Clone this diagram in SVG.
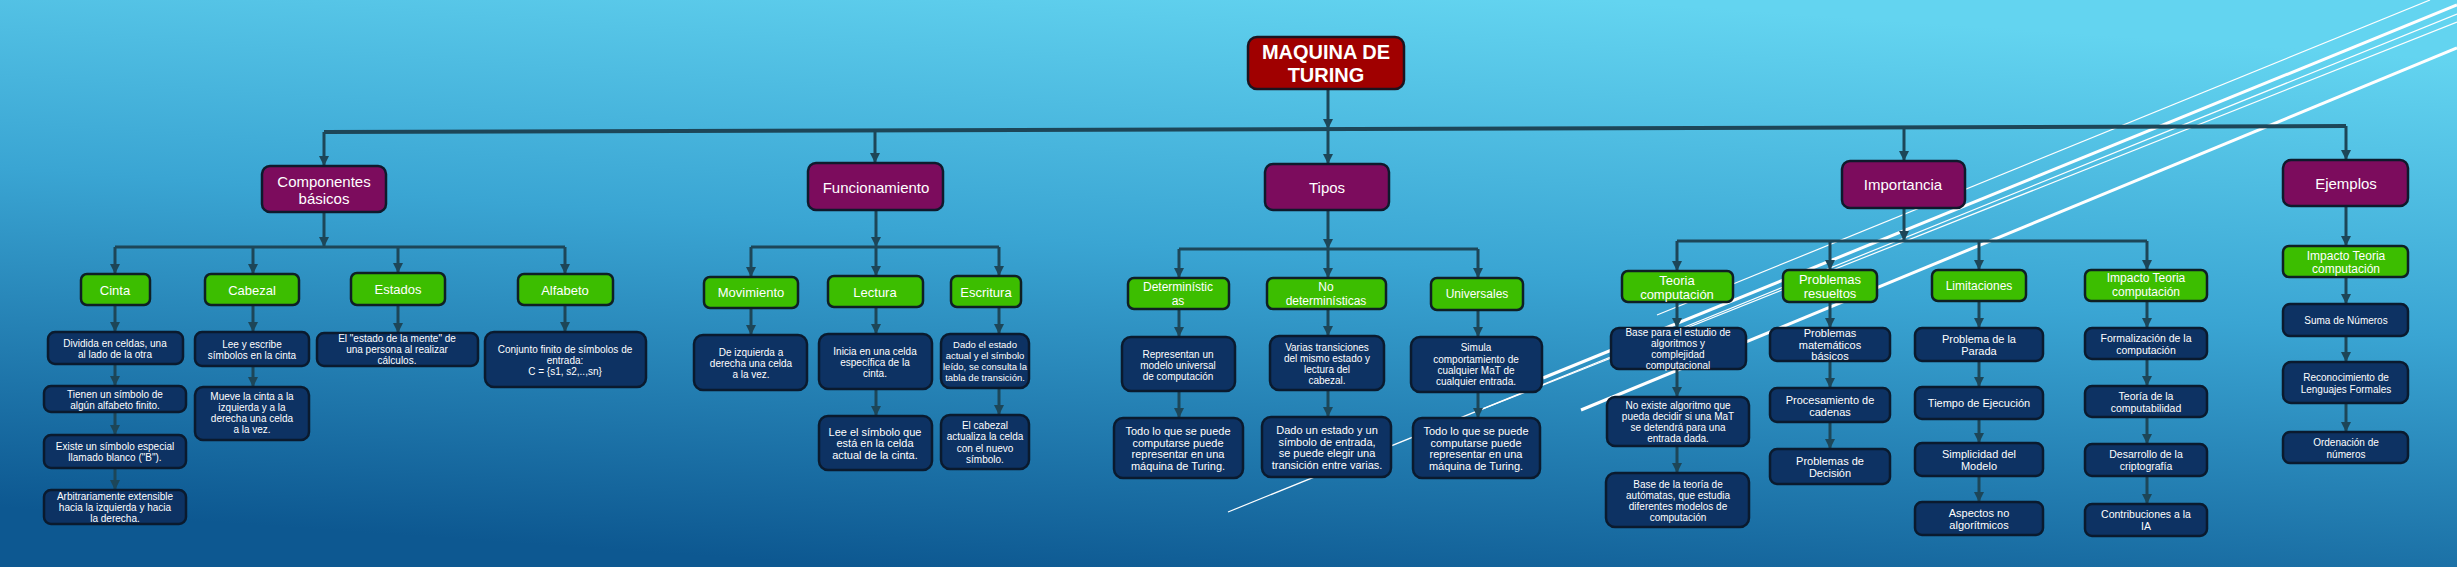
<svg xmlns="http://www.w3.org/2000/svg" width="2457" height="567" viewBox="0 0 2457 567">
<defs>
<linearGradient id="bg" x1="0.65" y1="0" x2="0.35" y2="1">
<stop offset="0" stop-color="#63d4f0"/>
<stop offset="0.45" stop-color="#3aa5d3"/>
<stop offset="1" stop-color="#0d5891"/>
</linearGradient>
<marker id="ah" markerUnits="userSpaceOnUse" markerWidth="10" markerHeight="10" refX="10" refY="5" orient="auto">
<path d="M0,0 L10,5 L0,10 z" fill="#1d4658"/>
</marker>
<style>
.c{stroke:#1d4658;stroke-width:3;fill:none;marker-end:url(#ah)}
.h{stroke:#1d4658;stroke-width:3;fill:none}
.hm{stroke:#1d4658;stroke-width:4;fill:none}
.wl{stroke:#ffffff;fill:none}
.b0{fill:#a00000;stroke:#1a1420;stroke-width:2.5}
.b1{fill:#7c0c5d;stroke:#0e1a2c;stroke-width:2.5}
.b2{fill:#3cbe00;stroke:#0f1f24;stroke-width:2.5}
.b3{fill:#0d3263;stroke:#0a1a2e;stroke-width:2.5}
text{font-family:"Liberation Sans",Arial,sans-serif;fill:#ffffff;text-anchor:middle;dominant-baseline:central}
.f0{font-size:20px;font-weight:bold}
.f1{font-size:15px}
.f2{font-size:13px}
.f2s{font-size:12px}
.f10{font-size:10px}
.f9{font-size:9.5px}
.f105{font-size:10.5px}
.f11{font-size:11px}
</style>
</defs>
<rect x="0" y="0" width="2457" height="567" fill="url(#bg)"/>
<g id="decor">
<line class="wl" stroke-width="1.2" x1="1657" y1="315" x2="2430" y2="0"/>
<line class="wl" stroke-width="3" x1="1543" y1="378" x2="2457" y2="5"/>
<line class="wl" stroke-width="1.2" x1="1228" y1="512" x2="2457" y2="14"/>
<line class="wl" stroke-width="1.2" x1="1480" y1="410" x2="2457" y2="22"/>
<line class="wl" stroke-width="3" x1="1581" y1="410" x2="2457" y2="48"/>
</g>
<g id="connectors">
<path class="c" d="M1328 89 V129"/>
<path class="hm" d="M324 132 L2346 126"/>
<path class="c" d="M324 132 V166"/>
<path class="c" d="M875 130 V163"/>
<path class="c" d="M1328 129 V164"/>
<path class="c" d="M1904 127 V161"/>
<path class="c" d="M2346 126 V160"/>
<path class="c" d="M324 212 V247"/>
<path class="h" d="M115 247 H565"/>
<path class="c" d="M115 247 V274"/>
<path class="c" d="M253 247 V274"/>
<path class="c" d="M398 247 V273"/>
<path class="c" d="M565 247 V274"/>
<path class="c" d="M115 305 V332"/>
<path class="c" d="M115 364 V386"/>
<path class="c" d="M115 412 V435"/>
<path class="c" d="M115 468 V490"/>
<path class="c" d="M253 305 V332"/>
<path class="c" d="M253 366 V387"/>
<path class="c" d="M398 305 V333"/>
<path class="c" d="M565 305 V332"/>
<path class="c" d="M876 210 V247"/>
<path class="h" d="M751 247 H999"/>
<path class="c" d="M751 247 V277"/>
<path class="c" d="M876 247 V276"/>
<path class="c" d="M999 247 V276"/>
<path class="c" d="M751 308 V335"/>
<path class="c" d="M876 307 V334"/>
<path class="c" d="M876 389 V416"/>
<path class="c" d="M999 307 V334"/>
<path class="c" d="M999 388 V415"/>
<path class="c" d="M1328 210 V249"/>
<path class="h" d="M1179 249 H1478"/>
<path class="c" d="M1179 249 V278"/>
<path class="c" d="M1328 249 V278"/>
<path class="c" d="M1478 249 V278"/>
<path class="c" d="M1179 309 V337"/>
<path class="c" d="M1179 391 V418"/>
<path class="c" d="M1328 309 V336"/>
<path class="c" d="M1328 390 V417"/>
<path class="c" d="M1478 310 V337"/>
<path class="c" d="M1478 392 V418"/>
<path class="c" d="M1904 208 V241"/>
<path class="h" d="M1677 241 H2147"/>
<path class="c" d="M1677 241 V271"/>
<path class="c" d="M1830 241 V270"/>
<path class="c" d="M1979 241 V270"/>
<path class="c" d="M2147 241 V270"/>
<path class="c" d="M1677 302 V328"/>
<path class="c" d="M1677 369 V397"/>
<path class="c" d="M1677 446 V473"/>
<path class="c" d="M1830 302 V328"/>
<path class="c" d="M1830 361 V388"/>
<path class="c" d="M1830 422 V449"/>
<path class="c" d="M1979 301 V328"/>
<path class="c" d="M1979 361 V387"/>
<path class="c" d="M1979 419 V443"/>
<path class="c" d="M1979 476 V502"/>
<path class="c" d="M2147 301 V328"/>
<path class="c" d="M2147 359 V386"/>
<path class="c" d="M2147 417 V444"/>
<path class="c" d="M2147 476 V504"/>
<path class="c" d="M2346 206 V246"/>
<path class="c" d="M2346 277 V304"/>
<path class="c" d="M2346 336 V362"/>
<path class="c" d="M2346 403 V432"/>
</g>
<g id="n-title"><rect class="b0" x="1248" y="37" width="156" height="52" rx="9"/><text class="f0"><tspan x="1326" y="52">MAQUINA DE</tspan><tspan x="1326" y="75">TURING</tspan></text></g>

<g id="n-componentes"><rect class="b1" x="262" y="166" width="124" height="46" rx="8"/><text class="f1"><tspan x="324" y="181">Componentes</tspan><tspan x="324" y="198">básicos</tspan></text></g>
<g id="n-funcionamiento"><rect class="b1" x="808" y="163" width="135" height="47" rx="8"/><text class="f1" x="876" y="187">Funcionamiento</text></g>
<g id="n-tipos"><rect class="b1" x="1265" y="164" width="124" height="46" rx="8"/><text class="f1" x="1327" y="187">Tipos</text></g>
<g id="n-importancia"><rect class="b1" x="1842" y="161" width="123" height="47" rx="8"/><text class="f1" x="1903" y="184">Importancia</text></g>
<g id="n-ejemplos"><rect class="b1" x="2283" y="160" width="125" height="46" rx="8"/><text class="f1" x="2346" y="183">Ejemplos</text></g>

<g id="n-cinta"><rect class="b2" x="81" y="274" width="69" height="31" rx="6"/><text class="f2" x="115" y="290">Cinta</text></g>
<g id="n-cabezal"><rect class="b2" x="205" y="274" width="94" height="31" rx="6"/><text class="f2" x="252" y="290">Cabezal</text></g>
<g id="n-estados"><rect class="b2" x="351" y="273" width="94" height="32" rx="6"/><text class="f2" x="398" y="289">Estados</text></g>
<g id="n-alfabeto"><rect class="b2" x="518" y="274" width="95" height="31" rx="6"/><text class="f2" x="565" y="290">Alfabeto</text></g>
<g id="n-movimiento"><rect class="b2" x="704" y="277" width="94" height="31" rx="6"/><text class="f2" x="751" y="292">Movimiento</text></g>
<g id="n-lectura"><rect class="b2" x="828" y="276" width="95" height="31" rx="6"/><text class="f2" x="875" y="292">Lectura</text></g>
<g id="n-escritura"><rect class="b2" x="951" y="276" width="70" height="31" rx="6"/><text class="f2" x="986" y="292">Escritura</text></g>
<g id="n-deterministicas"><rect class="b2" x="1128" y="278" width="101" height="31" rx="6"/><text class="f2s"><tspan x="1178" y="287">Determinístic</tspan><tspan x="1178" y="301">as</tspan></text></g>
<g id="n-nodeterministicas"><rect class="b2" x="1267" y="278" width="119" height="31" rx="6"/><text class="f2s"><tspan x="1326" y="287">No</tspan><tspan x="1326" y="301">determinísticas</tspan></text></g>
<g id="n-universales"><rect class="b2" x="1431" y="278" width="92" height="32" rx="6"/><text class="f2s" x="1477" y="294">Universales</text></g>
<g id="n-teoria"><rect class="b2" x="1622" y="271" width="111" height="31" rx="6"/><text class="f2"><tspan x="1677" y="280">Teoria</tspan><tspan x="1677" y="294">computación</tspan></text></g>
<g id="n-problemas"><rect class="b2" x="1783" y="270" width="94" height="32" rx="6"/><text class="f2"><tspan x="1830" y="279">Problemas</tspan><tspan x="1830" y="293">resueltos</tspan></text></g>
<g id="n-limitaciones"><rect class="b2" x="1932" y="270" width="94" height="31" rx="6"/><text class="f2s" x="1979" y="286">Limitaciones</text></g>
<g id="n-impacto"><rect class="b2" x="2085" y="270" width="122" height="31" rx="6"/><text class="f2s"><tspan x="2146" y="278">Impacto Teoria</tspan><tspan x="2146" y="292">computación</tspan></text></g>
<g id="n-ej-impacto"><rect class="b2" x="2283" y="246" width="125" height="31" rx="6"/><text class="f2s"><tspan x="2346" y="256">Impacto Teoria</tspan><tspan x="2346" y="269">computación</tspan></text></g>

<g id="n-cinta1"><rect class="b3" x="48" y="332" width="135" height="32" rx="7"/><text class="f10"><tspan x="115" y="343">Dividida en celdas, una</tspan><tspan x="115" y="354">al lado de la otra</tspan></text></g>
<g id="n-cinta2"><rect class="b3" x="44" y="386" width="142" height="26" rx="7"/><text class="f10"><tspan x="115" y="394">Tienen  un símbolo de</tspan><tspan x="115" y="405">algún  alfabeto finito.</tspan></text></g>
<g id="n-cinta3"><rect class="b3" x="44" y="435" width="142" height="33" rx="7"/><text class="f10"><tspan x="115" y="446">Existe un símbolo especial</tspan><tspan x="115" y="457">llamado  blanco ("B").</tspan></text></g>
<g id="n-cinta4"><rect class="b3" x="44" y="490" width="142" height="34" rx="7"/><text class="f10"><tspan x="115" y="496">Arbitrariamente extensible</tspan><tspan x="115" y="507">hacia  la izquierda  y hacia</tspan><tspan x="115" y="518">la derecha.</tspan></text></g>
<g id="n-cab1"><rect class="b3" x="195" y="332" width="114" height="34" rx="7"/><text class="f10"><tspan x="252" y="344">Lee y escribe</tspan><tspan x="252" y="355">símbolos en la cinta</tspan></text></g>
<g id="n-cab2"><rect class="b3" x="195" y="387" width="114" height="53" rx="8"/><text class="f10"><tspan x="252" y="396">Mueve la cinta a la</tspan><tspan x="252" y="407">izquierda y a la</tspan><tspan x="252" y="418">derecha una celda</tspan><tspan x="252" y="429">a la vez.</tspan></text></g>
<g id="n-est1"><rect class="b3" x="317" y="333" width="161" height="33" rx="7"/><text class="f10"><tspan x="397" y="338">El "estado de la mente" de</tspan><tspan x="397" y="349">una persona al realizar</tspan><tspan x="397" y="360">cálculos.</tspan></text></g>
<g id="n-alf1"><rect class="b3" x="485" y="332" width="161" height="55" rx="9"/><text class="f10"><tspan x="565" y="349">Conjunto  finito de símbolos de</tspan><tspan x="565" y="360">entrada:</tspan><tspan x="565" y="371">C = {s1, s2,..,sn}</tspan></text></g>
<g id="n-mov1"><rect class="b3" x="694" y="335" width="113" height="55" rx="9"/><text class="f10"><tspan x="751" y="352">De izquierda  a</tspan><tspan x="751" y="363">derecha  una  celda</tspan><tspan x="751" y="374">a la vez.</tspan></text></g>
<g id="n-lec1"><rect class="b3" x="819" y="334" width="113" height="55" rx="9"/><text class="f10"><tspan x="875" y="351">Inicia en una  celda</tspan><tspan x="875" y="362">específica de la</tspan><tspan x="875" y="373">cinta.</tspan></text></g>
<g id="n-lec2"><rect class="b3" x="819" y="416" width="113" height="54" rx="9"/><text class="f11"><tspan x="875" y="432">Lee el símbolo que</tspan><tspan x="875" y="443">está en la celda</tspan><tspan x="875" y="455">actual de la cinta.</tspan></text></g>
<g id="n-esc1"><rect class="b3" x="941" y="334" width="88" height="54" rx="9"/><text class="f9"><tspan x="985" y="344">Dado el estado</tspan><tspan x="985" y="355">actual y el símbolo</tspan><tspan x="985" y="366">leído, se consulta la</tspan><tspan x="985" y="377">tabla de transición.</tspan></text></g>
<g id="n-esc2"><rect class="b3" x="941" y="415" width="88" height="54" rx="9"/><text class="f10"><tspan x="985" y="425">El cabezal</tspan><tspan x="985" y="436">actualiza la celda</tspan><tspan x="985" y="448">con el nuevo</tspan><tspan x="985" y="459">símbolo.</tspan></text></g>
<g id="n-det1"><rect class="b3" x="1122" y="337" width="113" height="54" rx="9"/><text class="f10"><tspan x="1178" y="354">Representan  un</tspan><tspan x="1178" y="365">modelo universal</tspan><tspan x="1178" y="376">de computación</tspan></text></g>
<g id="n-det2"><rect class="b3" x="1114" y="418" width="129" height="60" rx="9"/><text class="f11"><tspan x="1178" y="431">Todo lo que se puede</tspan><tspan x="1178" y="443">computarse puede</tspan><tspan x="1178" y="454">representar en una</tspan><tspan x="1178" y="466">máquina de Turing.</tspan></text></g>
<g id="n-nod1"><rect class="b3" x="1270" y="336" width="114" height="54" rx="9"/><text class="f10"><tspan x="1327" y="347">Varias transiciones</tspan><tspan x="1327" y="358">del mismo estado y</tspan><tspan x="1327" y="369">lectura del</tspan><tspan x="1327" y="380">cabezal.</tspan></text></g>
<g id="n-nod2"><rect class="b3" x="1262" y="417" width="129" height="60" rx="9"/><text class="f11"><tspan x="1327" y="430">Dado un estado y un</tspan><tspan x="1327" y="442">símbolo de entrada,</tspan><tspan x="1327" y="453">se puede elegir una</tspan><tspan x="1327" y="465">transición entre varias.</tspan></text></g>
<g id="n-uni1"><rect class="b3" x="1411" y="337" width="131" height="55" rx="9"/><text class="f10"><tspan x="1476" y="347">Simula</tspan><tspan x="1476" y="359">comportamiento de</tspan><tspan x="1476" y="370">cualquier  MaT de</tspan><tspan x="1476" y="381">cualquier  entrada.</tspan></text></g>
<g id="n-uni2"><rect class="b3" x="1413" y="418" width="127" height="60" rx="9"/><text class="f11"><tspan x="1476" y="431">Todo lo que se puede</tspan><tspan x="1476" y="443">computarse puede</tspan><tspan x="1476" y="454">representar en una</tspan><tspan x="1476" y="466">máquina de Turing.</tspan></text></g>
<g id="n-teo1"><rect class="b3" x="1611" y="328" width="135" height="41" rx="8"/><text class="f10"><tspan x="1678" y="332">Base para el estudio de</tspan><tspan x="1678" y="343">algoritmos y</tspan><tspan x="1678" y="354">complejidad</tspan><tspan x="1678" y="365">computacional</tspan></text></g>
<g id="n-teo2"><rect class="b3" x="1607" y="397" width="142" height="49" rx="8"/><text class="f10"><tspan x="1678" y="405">No existe algoritmo que</tspan><tspan x="1678" y="416">pueda  decidir si una  MaT</tspan><tspan x="1678" y="427">se detendrá para una</tspan><tspan x="1678" y="438">entrada dada.</tspan></text></g>
<g id="n-teo3"><rect class="b3" x="1606" y="473" width="143" height="54" rx="9"/><text class="f10"><tspan x="1678" y="484">Base  de la teoría de</tspan><tspan x="1678" y="495">autómatas, que  estudia</tspan><tspan x="1678" y="506">diferentes modelos de</tspan><tspan x="1678" y="517">computación</tspan></text></g>
<g id="n-pro1"><rect class="b3" x="1770" y="328" width="120" height="33" rx="7"/><text class="f11"><tspan x="1830" y="333">Problemas</tspan><tspan x="1830" y="345">matemáticos</tspan><tspan x="1830" y="356">básicos</tspan></text></g>
<g id="n-pro2"><rect class="b3" x="1770" y="388" width="120" height="34" rx="7"/><text class="f11"><tspan x="1830" y="400">Procesamiento de</tspan><tspan x="1830" y="412">cadenas</tspan></text></g>
<g id="n-pro3"><rect class="b3" x="1770" y="449" width="120" height="35" rx="7"/><text class="f11"><tspan x="1830" y="461">Problemas de</tspan><tspan x="1830" y="473">Decisión</tspan></text></g>
<g id="n-lim1"><rect class="b3" x="1915" y="328" width="128" height="33" rx="7"/><text class="f11"><tspan x="1979" y="339">Problema de la</tspan><tspan x="1979" y="351">Parada</tspan></text></g>
<g id="n-lim2"><rect class="b3" x="1915" y="387" width="128" height="32" rx="7"/><text class="f11" x="1979" y="403">Tiempo de Ejecución</text></g>
<g id="n-lim3"><rect class="b3" x="1915" y="443" width="128" height="33" rx="7"/><text class="f11"><tspan x="1979" y="454">Simplicidad del</tspan><tspan x="1979" y="466">Modelo</tspan></text></g>
<g id="n-lim4"><rect class="b3" x="1915" y="502" width="128" height="33" rx="7"/><text class="f11"><tspan x="1979" y="513">Aspectos no</tspan><tspan x="1979" y="525">algorítmicos</tspan></text></g>
<g id="n-imp1"><rect class="b3" x="2085" y="328" width="122" height="31" rx="7"/><text class="f105"><tspan x="2146" y="338">Formalización de la</tspan><tspan x="2146" y="350">computación</tspan></text></g>
<g id="n-imp2"><rect class="b3" x="2085" y="386" width="122" height="31" rx="7"/><text class="f105"><tspan x="2146" y="396">Teoría de la</tspan><tspan x="2146" y="408">computabilidad</tspan></text></g>
<g id="n-imp3"><rect class="b3" x="2085" y="444" width="122" height="32" rx="7"/><text class="f105"><tspan x="2146" y="454">Desarrollo de la</tspan><tspan x="2146" y="466">criptografía</tspan></text></g>
<g id="n-imp4"><rect class="b3" x="2085" y="504" width="122" height="32" rx="7"/><text class="f105"><tspan x="2146" y="514">Contribuciones a la</tspan><tspan x="2146" y="526">IA</tspan></text></g>
<g id="n-ej1"><rect class="b3" x="2283" y="304" width="125" height="32" rx="7"/><text class="f10" x="2346" y="320">Suma de Números</text></g>
<g id="n-ej2"><rect class="b3" x="2283" y="362" width="125" height="41" rx="8"/><text class="f10"><tspan x="2346" y="377">Reconocimiento de</tspan><tspan x="2346" y="389">Lenguajes Formales</tspan></text></g>
<g id="n-ej3"><rect class="b3" x="2283" y="432" width="125" height="31" rx="7"/><text class="f10"><tspan x="2346" y="442">Ordenación de</tspan><tspan x="2346" y="454">números</tspan></text></g>
</svg>
